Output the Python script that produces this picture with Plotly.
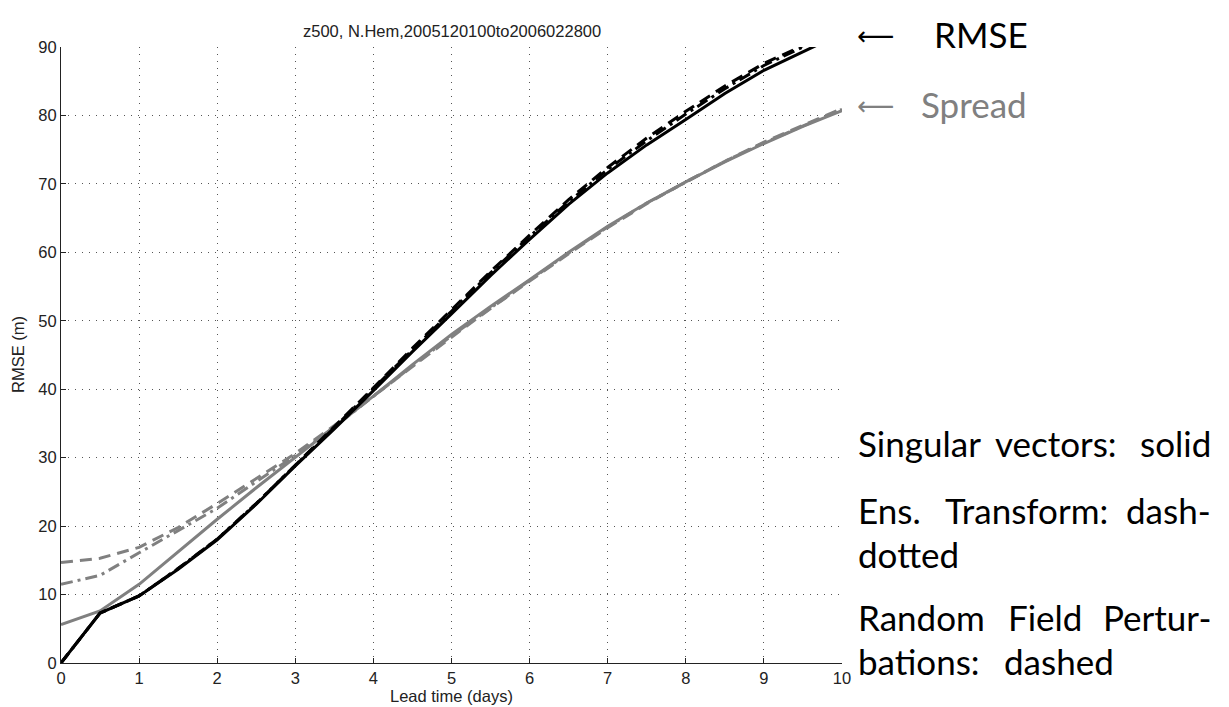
import plotly.graph_objects as go

lead_days = [0, 0.5, 1, 1.5, 2, 2.5, 3, 3.5, 4, 4.5, 5, 5.5, 6, 6.5, 7, 7.5, 8, 8.5, 9, 9.5, 10]

rmse_sv = [0, 7.3, 9.8, 13.7, 18.0, 23.2, 28.8, 34.2, 39.8, 45.5, 51.0, 56.6, 61.9, 67.0, 71.6, 75.7, 79.4, 83.2, 86.6, 89.3, 92.0]
rmse_et = [0, 7.3, 9.8, 13.8, 18.1, 23.3, 28.9, 34.4, 40.1, 45.8, 51.4, 57.0, 62.3, 67.4, 72.1, 76.3, 80.2, 83.9, 87.3, 90.0, 92.7]
rmse_rf = [0, 7.3, 9.8, 13.8, 18.1, 23.3, 28.9, 34.5, 40.2, 46.0, 51.6, 57.2, 62.5, 67.7, 72.4, 76.7, 80.6, 84.3, 87.6, 90.2, 93.0]

spread_sv = [5.6, 7.6, 11.5, 16.3, 21.0, 25.6, 30.0, 34.5, 39.0, 43.6, 48.0, 52.1, 56.0, 60.0, 63.8, 67.2, 70.3, 73.2, 75.9, 78.4, 80.7]
spread_et = [11.5, 12.8, 16.1, 19.3, 22.6, 26.5, 30.3, 34.5, 39.0, 43.4, 47.8, 51.9, 55.9, 59.9, 63.7, 67.2, 70.3, 73.3, 76.0, 78.5, 80.9]
spread_rf = [14.7, 15.3, 16.9, 19.8, 23.3, 27.0, 30.6, 34.7, 39.0, 43.4, 47.6, 51.8, 55.8, 59.8, 63.6, 67.1, 70.3, 73.3, 76.1, 78.6, 81.0]

x_ticks = [0, 1, 2, 3, 4, 5, 6, 7, 8, 9, 10]
y_ticks = [0, 10, 20, 30, 40, 50, 60, 70, 80, 90]

BLACK = "#000000"
GRAY = "#808080"
DASH = "12px,7px"
DASHDOT = "12px,5px,3px,5px"

fig = go.Figure()
series = [
    (spread_sv, GRAY, "solid"),
    (spread_et, GRAY, DASHDOT),
    (spread_rf, GRAY, DASH),
    (rmse_sv, BLACK, "solid"),
    (rmse_et, BLACK, DASHDOT),
    (rmse_rf, BLACK, DASH),
]
for ys, col, dash in series:
    fig.add_trace(go.Scatter(x=lead_days, y=ys, mode="lines",
                             line=dict(color=col, width=3, dash=dash),
                             showlegend=False, hoverinfo="skip"))

L, R, T, B = 61, 842, 47, 663
W, H = 1229, 707
pw, ph = R - L, B - T

def px(xp):
    return (xp - L) / pw

def py(yp):
    return (B - yp) / ph

SMALL = "Liberation Sans, Arial, sans-serif"
fig.update_layout(
    width=W, height=H,
    margin=dict(l=L, r=W - R, t=T, b=H - B, pad=0),
    paper_bgcolor="white", plot_bgcolor="white",
    font=dict(family=SMALL, size=16, color="#222"),
    showlegend=False,
)
axis_common = dict(
    showgrid=True, gridcolor="#555", gridwidth=1, griddash="1px,6px",
    zeroline=False, showline=True, linecolor="#222", linewidth=1,
    ticks="inside", ticklen=5, tickcolor="#222", mirror=False,
    tickfont=dict(family=SMALL, size=16.5, color="#222"),
)
fig.update_xaxes(range=[0, 10], tickvals=x_ticks, ticktext=[str(v) for v in x_ticks], **axis_common)
fig.update_yaxes(range=[0, 90], tickvals=y_ticks, ticktext=[str(v) for v in y_ticks], **axis_common)

ann = []
ann.append(dict(text="z500, N.Hem,2005120100to2006022800", x=px(452), y=py(31), xref="paper", yref="paper",
                xanchor="center", yanchor="middle", showarrow=False,
                font=dict(family=SMALL, size=16.5, color="#222")))
ann.append(dict(text="Lead time (days)", x=px(452), y=py(696), xref="paper", yref="paper",
                xanchor="center", yanchor="middle", showarrow=False,
                font=dict(family=SMALL, size=16.5, color="#222")))
ann.append(dict(text="RMSE (m)", x=px(18), y=py(355), xref="paper", yref="paper", textangle=-90,
                xanchor="center", yanchor="middle", showarrow=False,
                font=dict(family=SMALL, size=16.5, color="#222")))

BIG = dict(family="Lato, Open Sans, sans-serif", size=35, color="#000")
BIGG = dict(family="Lato, Open Sans, sans-serif", size=35, color=GRAY)
ARW = dict(family="DejaVu Sans, sans-serif", size=26, color="#000")
ARWG = dict(family="DejaVu Sans, sans-serif", size=26, color=GRAY)

def word(t, xp, yp, anchor="left", f=BIG):
    ann.append(dict(text=t, x=px(xp), y=py(yp), xref="paper", yref="paper",
                    xanchor=anchor, yanchor="middle", showarrow=False, font=f,
                    borderpad=0))

word("⟵", 856, 36, f=ARW)
word("RMSE", 933, 34)
word("⟵", 856, 106, f=ARWG)
word("Spread", 920, 104, f=BIGG)

word("Singular", 857, 443)
word("vectors:", 1056, 443, "center")
word("solid", 1212, 443, "right")

word("Ens.", 857, 510)
word("Transform:", 1026, 510, "center")
word("dash-", 1212, 510, "right")
word("dotted", 857, 554)

word("Random", 857, 617)
word("Field", 1045, 617, "center")
word("Pertur-", 1212, 617, "right")
word("bations:", 857, 661)
word("dashed", 1003, 661)

fig.update_layout(annotations=ann)
fig.write_html("out.html")
